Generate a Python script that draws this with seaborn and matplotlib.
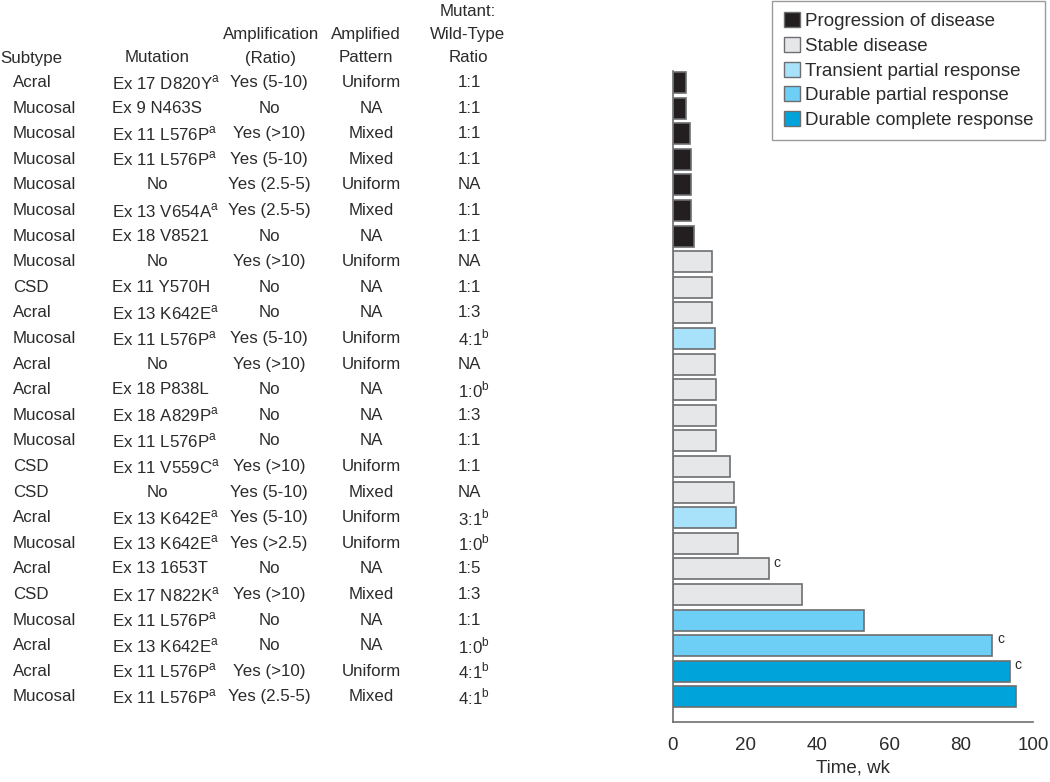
import numpy as np
import pandas as pd
import matplotlib
matplotlib.use("Agg")
import matplotlib.pyplot as plt
import matplotlib.transforms as mtransforms
from matplotlib.patches import Patch
import seaborn as sns

# table columns, top row first
subtype = ["Acral", "Mucosal", "Mucosal", "Mucosal", "Mucosal", "Mucosal", "Mucosal",
           "Mucosal", "CSD", "Acral", "Mucosal", "Acral", "Acral", "Mucosal", "Mucosal",
           "CSD", "CSD", "Acral", "Mucosal", "Acral", "CSD", "Mucosal", "Acral", "Acral",
           "Mucosal"]
mutation = ["Ex 17 D820Y^a", "Ex 9 N463S", "Ex 11 L576P^a", "Ex 11 L576P^a", "No",
            "Ex 13 V654A^a", "Ex 18 V8521", "No", "Ex 11 Y570H", "Ex 13 K642E^a",
            "Ex 11 L576P^a", "No", "Ex 18 P838L", "Ex 18 A829P^a", "Ex 11 L576P^a",
            "Ex 11 V559C^a", "No", "Ex 13 K642E^a", "Ex 13 K642E^a", "Ex 13 1653T",
            "Ex 17 N822K^a", "Ex 11 L576P^a", "Ex 13 K642E^a", "Ex 11 L576P^a",
            "Ex 11 L576P^a"]
amplification = ["Yes (5-10)", "No", "Yes (>10)", "Yes (5-10)", "Yes (2.5-5)", "Yes (2.5-5)",
                 "No", "Yes (>10)", "No", "No", "Yes (5-10)", "Yes (>10)", "No", "No", "No",
                 "Yes (>10)", "Yes (5-10)", "Yes (5-10)", "Yes (>2.5)", "No", "Yes (>10)",
                 "No", "No", "Yes (>10)", "Yes (2.5-5)"]
pattern = ["Uniform", "NA", "Mixed", "Mixed", "Uniform", "Mixed", "NA", "Uniform", "NA", "NA",
           "Uniform", "Uniform", "NA", "NA", "NA", "Uniform", "Mixed", "Uniform", "Uniform",
           "NA", "Mixed", "NA", "NA", "Uniform", "Mixed"]
ratio = ["1:1", "1:1", "1:1", "1:1", "NA", "1:1", "1:1", "NA", "1:1", "1:3", "4:1^b", "NA",
         "1:0^b", "1:3", "1:1", "1:1", "NA", "3:1^b", "1:0^b", "1:5", "1:3", "1:1", "1:0^b",
         "4:1^b", "4:1^b"]

# bar values (weeks) and response category
weeks = [3.6, 3.6, 4.7, 5.0, 5.0, 5.0, 5.9, 10.8, 10.9, 10.9, 11.6, 11.8, 12.0, 12.0, 12.0,
         15.9, 17.0, 17.5, 18.0, 26.6, 35.7, 53.0, 88.7, 93.6, 95.4]
P, S, T, DP, DC = ("Progression of disease", "Stable disease", "Transient partial response",
                   "Durable partial response", "Durable complete response")
response = [P] * 7 + [S] * 3 + [T] + [S] * 6 + [T] + [S] * 3 + [DP] * 2 + [DC] * 2
footnote_c = [19, 22, 23]

categories = [P, S, T, DP, DC]
colors = ["#231f20", "#e6e7e8", "#a8e2fa", "#6dcff6", "#00a4db"]
palette = dict(zip(categories, colors))

def sup(s):
    # turn "^x" marker into a mathtext superscript
    if "^" in s:
        base, letter = s.split("^")
        return base + r"$^{\mathrm{" + letter + "}}$"
    return s

n = len(weeks)
df = pd.DataFrame({"row": [str(i) for i in range(n)], "weeks": weeks, "response": response})

sns.set_style("white")
plt.rcParams["font.family"] = ["Liberation Sans", "DejaVu Sans"]
plt.rcParams["mathtext.fontset"] = "custom"
plt.rcParams["mathtext.rm"] = "Liberation Sans"
txt = "#2b2b2b"

fig = plt.figure(figsize=(10.5, 7.82), dpi=100)
W, H = 1050, 782
ax = fig.add_axes([673 / W, 1 - 722 / H, 360 / W, 651 / H])

sns.barplot(data=df, x="weeks", y="row", hue="response", hue_order=categories,
            palette=palette, dodge=False, orient="h", width=0.82, legend=False,
            saturation=1, edgecolor="#6d6e71", linewidth=1.2, ax=ax)

ax.set_xlim(0, 100)
ax.set_ylim(24.98, -0.45)
ax.set_xticks([0, 20, 40, 60, 80, 100])
ax.tick_params(axis="x", direction="out", length=6, width=1, color="#6d6e71",
               labelsize=13.5, labelcolor=txt, pad=5)
ax.set_yticks([])
ax.set_ylabel("")
ax.set_xlabel("Time, wk", fontsize=13.5, color=txt, labelpad=4)
for side in ["top", "right"]:
    ax.spines[side].set_visible(False)
for side in ["left", "bottom"]:
    ax.spines[side].set_color("#6d6e71")
    ax.spines[side].set_linewidth(1.2)

for i in footnote_c:
    ax.text(weeks[i] + 1.3, i - 0.25, "c", fontsize=10, color=txt, va="center")

# table on the left, rows tied to the bar rows
tr = mtransforms.blended_transform_factory(fig.transFigure, ax.transData)
fs = 12.2
for i in range(n):
    ax.text(13 / W, i, subtype[i], transform=tr, fontsize=fs, color=txt, va="center",
            ha="left")
    if mutation[i] == "No":
        ax.text(157 / W, i, "No", transform=tr, fontsize=fs, color=txt, va="center",
                ha="center")
    else:
        ax.text(112 / W, i, sup(mutation[i]), transform=tr, fontsize=fs, color=txt,
                va="center", ha="left")
    ax.text(269 / W, i, amplification[i], transform=tr, fontsize=fs, color=txt,
            va="center", ha="center")
    ax.text(371 / W, i, pattern[i], transform=tr, fontsize=fs, color=txt,
            va="center", ha="center")
    ax.text(458 / W, i, sup(ratio[i]), transform=tr, fontsize=fs, color=txt,
            va="center", ha="left")

# column headers
hy = [1 - 12 / H, 1 - 35 / H, 1 - 58 / H]
fig.text(0 / W, hy[2], "Subtype", fontsize=fs, color=txt, va="center", ha="left")
fig.text(157 / W, hy[2], "Mutation", fontsize=fs, color=txt, va="center", ha="center")
fig.text(271 / W, hy[1], "Amplification", fontsize=fs, color=txt, va="center", ha="center")
fig.text(271 / W, hy[2], "(Ratio)", fontsize=fs, color=txt, va="center", ha="center")
fig.text(366 / W, hy[1], "Amplified", fontsize=fs, color=txt, va="center", ha="center")
fig.text(366 / W, hy[2], "Pattern", fontsize=fs, color=txt, va="center", ha="center")
fig.text(468 / W, hy[0], "Mutant:", fontsize=fs, color=txt, va="center", ha="center")
fig.text(468 / W, hy[1], "Wild-Type", fontsize=fs, color=txt, va="center", ha="center")
fig.text(468 / W, hy[2], "Ratio", fontsize=fs, color=txt, va="center", ha="center")

handles = [Patch(facecolor=palette[c], edgecolor="#6d6e71", linewidth=1.0, label=c)
           for c in categories]
leg = fig.legend(handles=handles, loc="upper right", bbox_to_anchor=(1045 / W, 1 - 1 / H),
                 fontsize=13.5, frameon=True, fancybox=False, handlelength=0.85,
                 handleheight=0.85, handletextpad=0.3, labelspacing=0.36,
                 borderpad=0.6, borderaxespad=0)
leg.get_frame().set_edgecolor("#808285")
leg.get_frame().set_linewidth(1.0)
for t in leg.get_texts():
    t.set_color(txt)

fig.savefig("out.png", dpi=100)
